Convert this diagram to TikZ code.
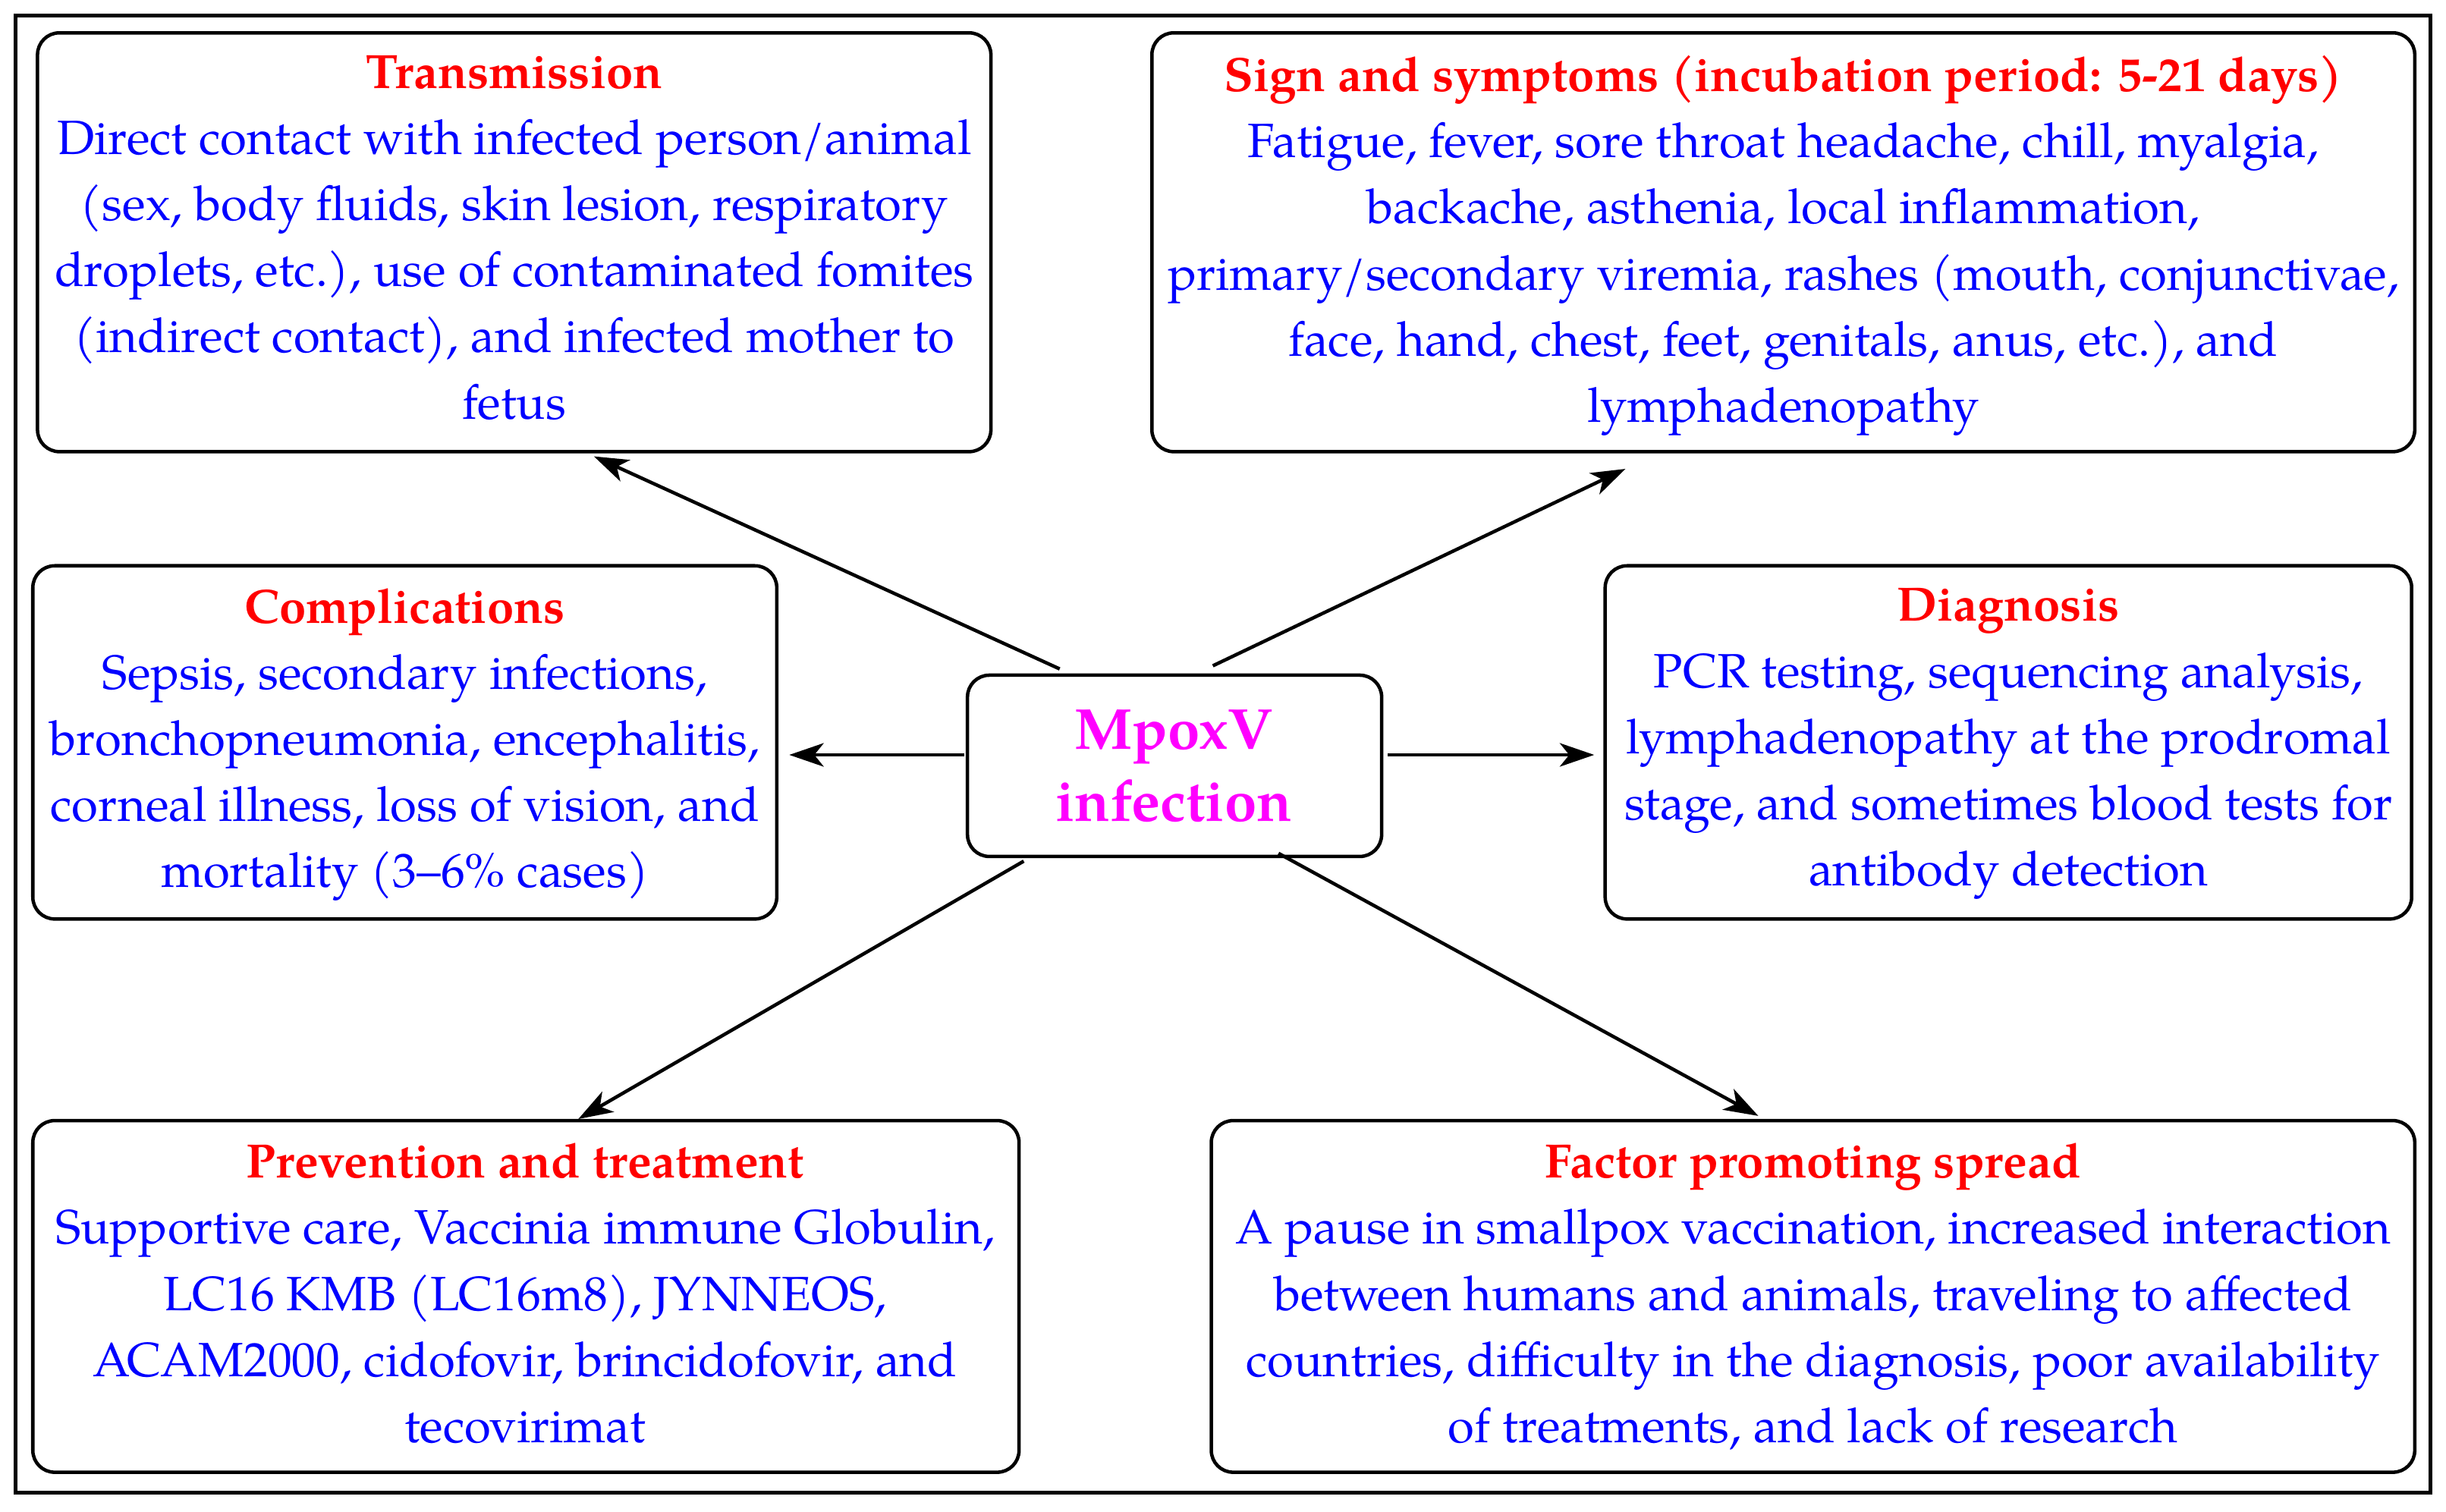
\documentclass[tikz,border=0pt]{standalone}
\usepackage{fontspec}
\setmainfont{TeX Gyre Pagella}
\usetikzlibrary{arrows.meta}
\definecolor{mag}{RGB}{255,0,255}
\begin{document}
\begin{tikzpicture}[x=1pt,y=-1pt,
 box/.style={draw,line width=2.2pt,rounded corners=14pt},
 txt/.style={anchor=north,align=center,font=\fontsize{30.8}{42.3}\selectfont,text=blue},
 arr/.style={-{Stealth[length=22pt,width=15pt,inset=6pt]},line width=2.2pt}]
\fill[white] (0,0) rectangle (1565,967);
\draw[line width=2.2pt] (10,10) rectangle (1555,955);
\draw[box] (24,21) rectangle (634,289);
\node[txt] (tn) at (329,32) {{\color{red}\bfseries Transmission}\\Direct contact with infected person/animal\\(sex, body fluids, skin lesion, respiratory\\droplets, etc.), use of contaminated fomites\\(indirect contact), and infected mother to\\fetus};
\draw[box] (737,21) rectangle (1545,289);
\node[txt] (sn) at (1141,32) {{\color{red}\bfseries Sign and symptoms (incubation period: 5-21 days)}\\Fatigue, fever, sore throat headache, chill, myalgia,\\backache, asthenia, local inflammation,\\primary/secondary viremia, rashes (mouth, conjunctivae,\\face, hand, chest, feet, genitals, anus, etc.), and\\lymphadenopathy};
\draw[box] (21,362) rectangle (497,588);
\node[txt] (cn) at (259,373) {{\color{red}\bfseries Complications}\\Sepsis, secondary infections,\\bronchopneumonia, encephalitis,\\corneal illness, loss of vision, and\\mortality (3--6\% cases)};
\draw[box] (1027,362) rectangle (1543,588);
\node[txt] (dn) at (1285,373) {{\color{red}\bfseries Diagnosis}\\PCR testing, sequencing analysis,\\lymphadenopathy at the prodromal\\stage, and sometimes blood tests for\\antibody detection};
\draw[box] (21,717) rectangle (652,942);
\node[txt] (pn) at (336,728) {{\color{red}\bfseries Prevention and treatment}\\Supportive care, Vaccinia immune Globulin,\\LC16 KMB (LC16m8), JYNNEOS,\\ACAM2000, cidofovir, brincidofovir, and\\tecovirimat};
\draw[box] (775,717) rectangle (1545,942);
\node[txt] (fn) at (1160,728) {{\color{red}\bfseries Factor promoting spread}\\A pause in smallpox vaccination, increased interaction\\between humans and animals, traveling to affected\\countries, difficulty in the diagnosis, poor availability\\of treatments, and lack of research};
\draw[box] (619,432) rectangle (884,548);
\node[align=center,text=mag,font=\fontsize{37}{46}\selectfont\bfseries] (m) at (751,490) {MpoxV\\infection};
\coordinate (a1) at (678,428); \coordinate (b1) at (380,292);
\coordinate (a2) at (776,426); \coordinate (b2) at (1040,300);
\coordinate (a3) at (617,483); \coordinate (b3) at (505,483);
\coordinate (a4) at (888,483); \coordinate (b4) at (1020,483);
\coordinate (a5) at (655,551); \coordinate (b5) at (370,716);
\coordinate (a6) at (818,546); \coordinate (b6) at (1125,714);
\foreach \i in {1,...,6} \draw[arr] (a\i) -- (b\i);
\end{tikzpicture}
\end{document}
